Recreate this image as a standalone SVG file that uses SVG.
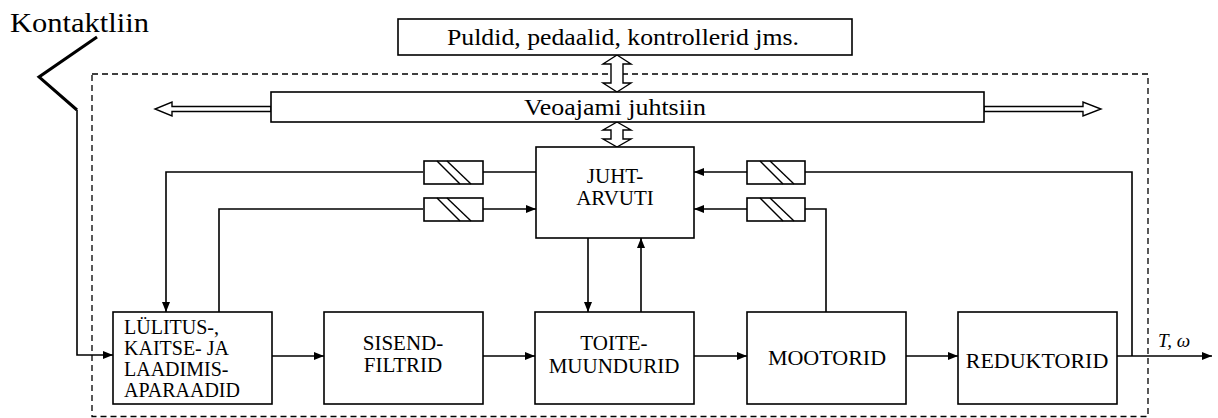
<svg xmlns="http://www.w3.org/2000/svg" width="1218" height="418" viewBox="0 0 1218 418">
<style>
.box{fill:#fff;stroke:#000;stroke-width:1.6}
.t{font-family:'Liberation Serif','DejaVu Serif','Times New Roman',serif;font-size:21px;fill:#000}
.c{stroke:#000;stroke-width:1.6;fill:none}
.h{fill:#fff;stroke:#000;stroke-width:1.4}
.sd{fill:none;stroke:#000;stroke-width:1.4}
</style>
<defs>
<marker id="a" viewBox="0 0 10 8" refX="10" refY="4" markerWidth="10" markerHeight="8" markerUnits="userSpaceOnUse" orient="auto">
<path d="M0,0 L10,4 L0,8 Z" fill="#000"/>
</marker>
</defs>
<rect x="0" y="0" width="1218" height="418" fill="#fff"/>
<rect id="frame" x="92" y="74" width="1056" height="342.5" fill="none" stroke="#000" stroke-width="1.3" stroke-dasharray="6,4"/>
<text x="10" y="32" class="t" style="font-size:27px" textLength="139" lengthAdjust="spacingAndGlyphs">Kontaktliin</text>
<g id="connectors">
<polyline points="97,37 39,77 77,110" fill="none" stroke="#000" stroke-width="3"/>
<polyline class="c" points="77,110 77,355 113,355" marker-end="url(#a)"/>
<line class="c" x1="272" y1="356" x2="324" y2="356" marker-end="url(#a)"/>
<line class="c" x1="483" y1="356" x2="535" y2="356" marker-end="url(#a)"/>
<line class="c" x1="694" y1="356" x2="747" y2="356" marker-end="url(#a)"/>
<line class="c" x1="906" y1="356" x2="958" y2="356" marker-end="url(#a)"/>
<line class="c" x1="1117" y1="356" x2="1212" y2="356" marker-end="url(#a)"/>
<polyline class="c" points="1132,356 1132,172 805,172"/>
<line class="c" x1="747" y1="172" x2="694" y2="172" marker-end="url(#a)"/>
<polyline class="c" points="826,312 826,209 805,209"/>
<line class="c" x1="747" y1="209" x2="694" y2="209" marker-end="url(#a)"/>
<line class="c" x1="536" y1="172" x2="483" y2="172"/>
<polyline class="c" points="423,172 166,172 166,312" marker-end="url(#a)"/>
<polyline class="c" points="219,312 219,209 423,209"/>
<line class="c" x1="483" y1="209" x2="536" y2="209" marker-end="url(#a)"/>
<line class="c" x1="588" y1="238" x2="588" y2="312" marker-end="url(#a)"/>
<line class="c" x1="641" y1="312" x2="641" y2="238" marker-end="url(#a)"/>
<polygon class="h" points="271,106.5 172,106.5 172,102 155,109 172,116 172,111.5 271,111.5"/>
<polygon class="h" points="984,106.5 1083,106.5 1083,102 1101,109 1083,116 1083,111.5 984,111.5"/>
<polygon class="h" points="617,55 631,64 623,64 623,83 631,83 617,92 603,83 611,83 611,64 603,64"/>
<polygon class="h" points="617,122 631,130 623,130 623,139 631,139 617,147 603,139 611,139 611,130 603,130"/>
</g>
<g id="sensor-l1"><rect class="box" x="424" y="161" width="59" height="23"/><line class="sd" x1="437" y1="161" x2="460" y2="184"/><line class="sd" x1="447" y1="161" x2="471" y2="184"/></g>
<g id="sensor-l2"><rect class="box" x="424" y="198" width="59" height="23"/><line class="sd" x1="437" y1="198" x2="460" y2="221"/><line class="sd" x1="447" y1="198" x2="471" y2="221"/></g>
<g id="sensor-r1"><rect class="box" x="747" y="161" width="58" height="23"/><line class="sd" x1="760" y1="161" x2="783" y2="184"/><line class="sd" x1="770" y1="161" x2="794" y2="184"/></g>
<g id="sensor-r2"><rect class="box" x="747" y="198" width="58" height="23"/><line class="sd" x1="760" y1="198" x2="783" y2="221"/><line class="sd" x1="770" y1="198" x2="794" y2="221"/></g>
<g id="puldid"><rect class="box" x="398" y="19" width="454" height="36"/><text x="623" y="45" class="t" text-anchor="middle" style="font-size:23px" textLength="352" lengthAdjust="spacingAndGlyphs">Puldid, pedaalid, kontrollerid jms.</text></g>
<g id="juhtsiin"><rect class="box" x="271" y="92" width="713" height="30"/><text x="615" y="115" class="t" text-anchor="middle" style="font-size:23px" textLength="182" lengthAdjust="spacingAndGlyphs">Veoajami juhtsiin</text></g>
<g id="juhtarvuti"><rect class="box" x="536" y="147" width="158" height="91"/><text x="615" y="183" class="t" text-anchor="middle">JUHT-</text><text x="615" y="205" class="t" text-anchor="middle">ARVUTI</text></g>
<g id="lylitus"><rect class="box" x="113" y="312" width="159" height="92"/><text x="124" y="334" class="t" style="font-size:20px">LÜLITUS-,</text><text x="124" y="355" class="t" style="font-size:20px">KAITSE- JA</text><text x="124" y="376" class="t" style="font-size:20px">LAADIMIS-</text><text x="124" y="397" class="t" style="font-size:20px">APARAADID</text></g>
<g id="sisend"><rect class="box" x="324" y="312" width="159" height="92"/><text x="403" y="350" class="t" text-anchor="middle">SISEND-</text><text x="403" y="372" class="t" text-anchor="middle">FILTRID</text></g>
<g id="toite"><rect class="box" x="535" y="312" width="159" height="92"/><text x="614" y="350" class="t" text-anchor="middle">TOITE-</text><text x="614" y="373" class="t" text-anchor="middle">MUUNDURID</text></g>
<g id="mootorid"><rect class="box" x="747" y="312" width="159" height="92"/><text x="827" y="365" class="t" text-anchor="middle" style="font-size:22px">MOOTORID</text></g>
<g id="reduktorid"><rect class="box" x="958" y="312" width="159" height="92"/><text x="1037" y="368" class="t" text-anchor="middle" style="font-size:22px">REDUKTORID</text></g>
<text x="1158" y="347" class="t" style="font-style:italic;font-size:19px">T, ω</text>
</svg>
